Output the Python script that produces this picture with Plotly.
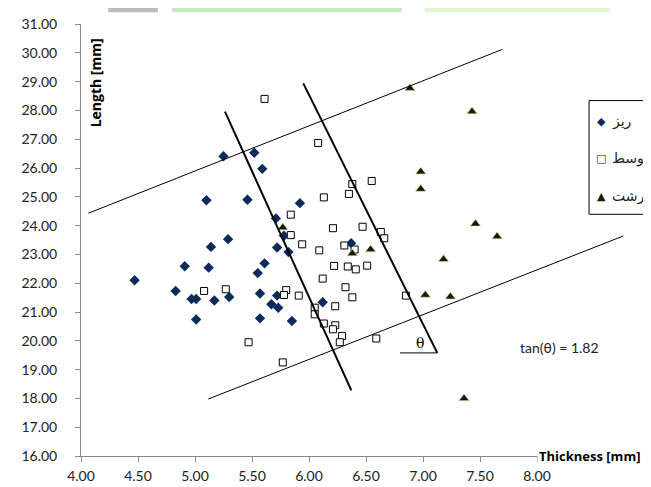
import plotly.graph_objects as go

# ---------------- data ----------------
fine_x = [4.47, 4.83, 4.91, 4.97, 5.01, 5.01, 5.10, 5.12, 5.14, 5.17, 5.25, 5.29, 5.30,
          5.46, 5.52, 5.55, 5.57, 5.57, 5.59, 5.61, 5.67, 5.71, 5.72, 5.72, 5.73, 5.78,
          5.82, 5.85, 5.92, 6.12, 6.37]
fine_y = [22.10, 21.73, 22.59, 21.45, 21.45, 20.74, 24.88, 22.54, 23.26, 21.40, 26.41, 23.53, 21.52,
          24.90, 26.53, 22.35, 21.64, 20.78, 25.97, 22.69, 21.27, 24.25, 23.24, 21.57, 21.15, 23.65,
          23.08, 20.69, 24.78, 21.34, 23.39]

medium_x = [5.08, 5.27, 5.47, 5.61, 6.08, 6.38, 6.55, 6.13, 6.35, 5.84, 6.21, 6.47, 6.63, 6.66,
            5.84, 5.94, 6.09, 6.31, 6.40, 6.22, 6.34, 6.41, 6.51, 6.12, 6.32, 6.38, 5.80, 5.78,
            5.91, 6.05, 6.05, 6.23, 6.13, 6.23, 6.21, 6.29, 6.27, 6.59, 6.85, 5.77]
medium_y = [21.73, 21.79, 19.95, 28.40, 26.87, 25.44, 25.55, 24.98, 25.10, 24.38, 23.91, 23.96, 23.78, 23.56,
            23.67, 23.35, 23.14, 23.31, 23.17, 22.60, 22.58, 22.48, 22.61, 22.16, 21.86, 21.51, 21.76, 21.59,
            21.57, 21.15, 20.92, 21.20, 20.60, 20.54, 20.40, 20.17, 19.95, 20.08, 21.57, 19.25]

coarse_x = [5.77, 6.38, 6.54, 6.885, 6.98, 6.98, 7.02, 7.18, 7.24, 7.36, 7.43, 7.46, 7.65]
coarse_y = [23.93, 23.03, 23.17, 28.77, 25.87, 25.27, 21.59, 22.83, 21.53, 18.00, 27.96, 24.06, 23.62]

series_names = ["ریز", "متوسط", "درشت"]
legend_glyphs = ["◆", "□", "▲"]
series_colors = ["#0d2b5a", "#111111", "#141c05"]

# guide lines (endpoints in data units)
upper_line_x = [4.064, 7.696]
upper_line_y = [24.43, 30.12]
lower_line_x = [5.117, 8.757]
lower_line_y = [17.98, 23.64]
left_steep_x = [5.263, 6.371]
left_steep_y = [27.96, 18.28]
right_steep_x = [5.95, 7.125]
right_steep_y = [28.94, 19.58]
theta_base_x = [6.798, 7.125]
theta_base_y = [19.58, 19.58]

x_ticks = [4.0, 4.5, 5.0, 5.5, 6.0, 6.5, 7.0, 7.5, 8.0]
y_ticks = list(range(16, 32))

# ---------------- figure ----------------
fig = go.Figure()

fig.add_trace(go.Scatter(x=fine_x, y=fine_y, mode="markers", name=series_names[0],
                         marker=dict(symbol="diamond", size=8, color=series_colors[0],
                                     line=dict(width=0))))
fig.add_trace(go.Scatter(x=medium_x, y=medium_y, mode="markers", name=series_names[1],
                         marker=dict(symbol="square", size=7, color="white",
                                     line=dict(width=1, color="black"))))
fig.add_trace(go.Scatter(x=coarse_x, y=coarse_y, mode="markers", name=series_names[2],
                         marker=dict(symbol="triangle-up", size=9, color=series_colors[2],
                                     line=dict(width=0.8, color="rgba(230,238,160,0.7)"))))

for lx, ly, w in [(upper_line_x, upper_line_y, 1), (lower_line_x, lower_line_y, 1),
                  (left_steep_x, left_steep_y, 2), (right_steep_x, right_steep_y, 2),
                  (theta_base_x, theta_base_y, 1)]:
    fig.add_trace(go.Scatter(x=lx, y=ly, mode="lines", showlegend=False, hoverinfo="skip",
                             line=dict(color="black", width=w)))

tick_font = dict(family="Lato", size=14, color="#222222")
title_font = dict(family="Open Sans", size=14, color="black")

fig.update_layout(
    width=651, height=487,
    margin=dict(l=73, r=0, t=16, b=39, pad=0, autoexpand=False),
    plot_bgcolor="white", paper_bgcolor="white",
    showlegend=False,
    xaxis=dict(range=[4, 9.07], tickvals=x_ticks,
               ticktext=[f"{v:.2f}" for v in x_ticks],
               showgrid=False, zeroline=False, showline=True, linecolor="#888888",
               linewidth=1, ticks="outside", ticklen=5, tickcolor="#888888",
               tickfont=tick_font, ticklabelstandoff=2),
    yaxis=dict(range=[16, 31], tickvals=y_ticks,
               ticktext=[f"{v:.2f}" for v in y_ticks],
               showgrid=False, zeroline=False, showline=True, linecolor="#888888",
               linewidth=1, ticks="outside", ticklen=5, tickcolor="#888888",
               tickfont=tick_font, ticklabelstandoff=15),
)

# legend box (right-to-left labels, cut by the right edge as in the source)
fig.add_shape(type="rect", xref="paper", yref="paper", x0=0.879, x1=1.05, y0=0.5595, y1=0.8227,
              fillcolor="white", line=dict(color="black", width=1), layer="above")
legend_rows = [0.775, 0.689, 0.601]
for name, glyph, col, ry in zip(series_names, legend_glyphs, series_colors, legend_rows):
    fig.add_annotation(x=0.8997, y=ry, xref="paper", yref="paper", text=glyph,
                       showarrow=False, xanchor="center", yanchor="middle",
                       font=dict(family="DejaVu Sans", size=11, color=col))
    fig.add_annotation(x=0.916, y=ry, xref="paper", yref="paper", text=name,
                       showarrow=False, xanchor="left", yanchor="middle",
                       font=dict(family="DejaVu Sans", size=14, color="#222222"))

fig.add_annotation(x=8, y=16, xref="x", yref="y", text="<b>Thickness [mm]</b>",
                   showarrow=False, xanchor="left", yanchor="middle", xshift=0,
                   width=130, align="left",
                   bgcolor="white", font=dict(family="Open Sans", size=13, color="black"))
fig.add_annotation(x=4.158, y=28.94, xref="x", yref="y", text="<b>Length [mm]</b>",
                   showarrow=False, textangle=-90, xanchor="center", yanchor="middle",
                   xshift=-4, font=title_font)
fig.add_annotation(x=6.97, y=19.91, xref="x", yref="y", text="θ",
                   showarrow=False, xanchor="center", yanchor="middle",
                   font=dict(family="DejaVu Serif", size=14, color="black"))
fig.add_annotation(x=8.196, y=19.76, xref="x", yref="y", text="tan(θ) = 1.82",
                   showarrow=False, xanchor="center", yanchor="middle",
                   font=dict(family="Lato", size=14, color="#222222"))

# cropped page header strips at the top edge
for x0, x1, col in [(0.047, 0.133, "#b9bdc1"), (0.157, 0.555, "#c8e8c2"), (0.595, 0.915, "#ddf7d0")]:
    fig.add_shape(type="rect", xref="paper", yref="paper", x0=x0, x1=x1, y0=1.027, y1=1.04,
                  fillcolor=col, line=dict(width=0), layer="above")

fig.write_html("out.html")
